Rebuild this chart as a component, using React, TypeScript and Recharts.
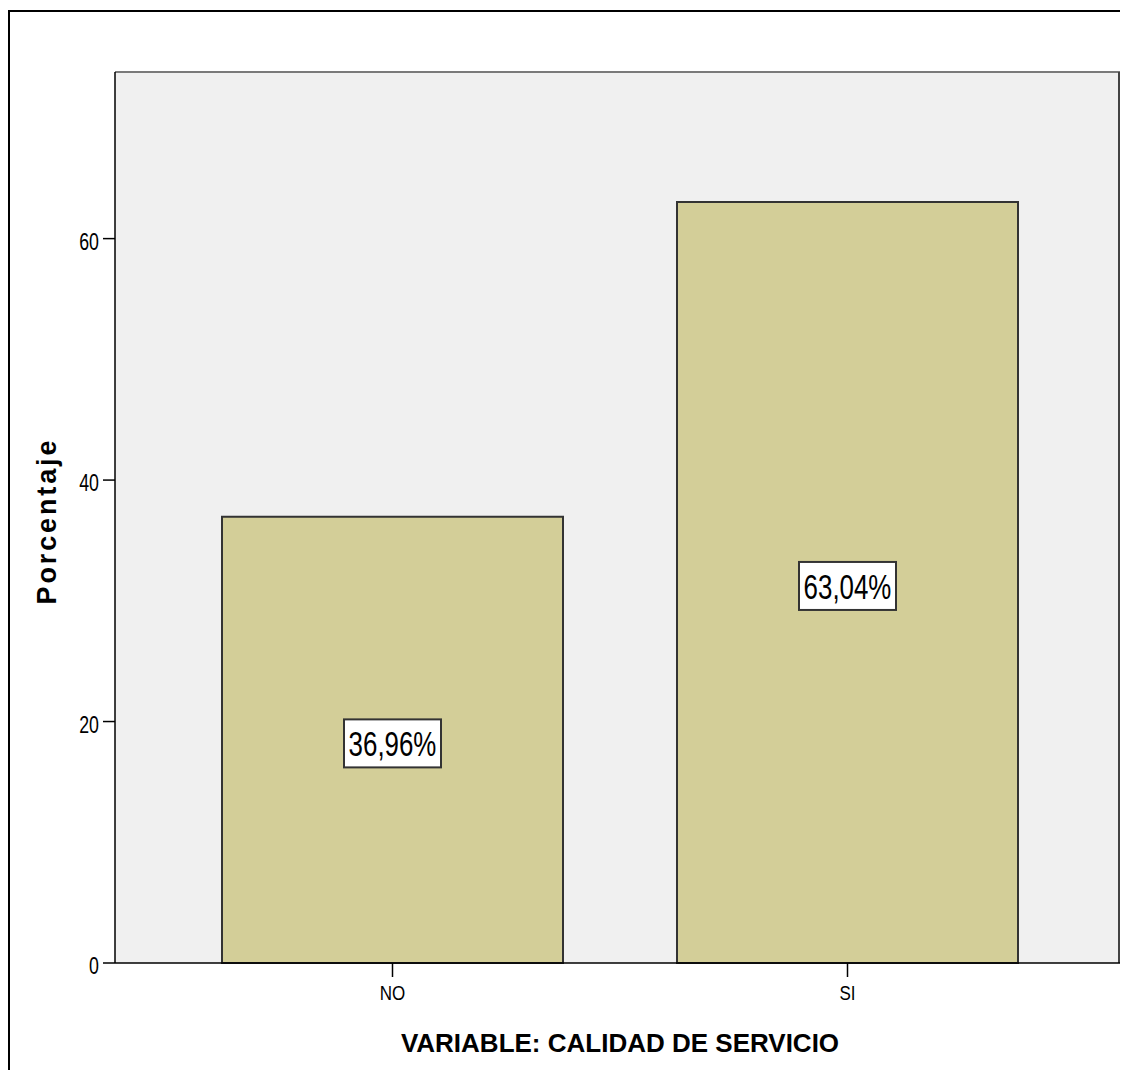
import React from 'react'
import { Bar, BarChart, CartesianGrid, LabelList, Label, XAxis, YAxis } from 'recharts'

const categories = ['NO', 'SI']
const percentages = [36.96, 63.04]
const yTicks = [0, 20, 40, 60]
const yMax = 73.8

const yTitle = 'Porcentaje'
const xTitle = 'VARIABLE: CALIDAD DE SERVICIO'

const data = categories.map((cat, i) => ({ cat, pct: percentages[i] }))

const FONT = '"Liberation Sans", Arial, sans-serif'

// SPSS draws its tick and value text in a condensed face, so squeeze it horizontally
const YTick = (props: any) => {
    const { x, y, payload } = props
    return (
        <text
            x={x}
            y={y + 11}
            textAnchor="end"
            fontFamily={FONT}
            fontSize={24}
            fill="#000"
            transform={`translate(${x} 0) scale(0.74 1) translate(${-x} 0)`}
        >
            {payload.value}
        </text>
    )
}

const XTick = (props: any) => {
    const { x, y, payload } = props
    return (
        <text
            x={x}
            y={y + 23}
            textAnchor="middle"
            fontFamily={FONT}
            fontSize={20}
            fill="#000"
            transform={`translate(${x} 0) scale(0.85 1) translate(${-x} 0)`}
        >
            {payload.value}
        </text>
    )
}

const formatPct = (v: number) => v.toFixed(2).replace('.', ',') + '%'

const ValueBox = (props: any) => {
    const { x, y, width, height, value } = props
    const cx = x + width / 2
    const cy = y + height / 2 + 3.5
    const boxW = 97
    const boxH = 48
    return (
        <g>
            <rect x={cx - boxW / 2} y={cy - boxH / 2} width={boxW} height={boxH} fill="#fff" stroke="#333" strokeWidth={2} />
            <text
                x={cx}
                y={cy + 13}
                textAnchor="middle"
                fontFamily={FONT}
                fontSize={35}
                fill="#000"
                transform={`translate(${cx} 0) scale(0.74 1) translate(${-cx} 0)`}
            >
                {formatPct(value)}
            </text>
        </g>
    )
}

const XTitle = (props: any) => {
    const { viewBox } = props
    return (
        <text
            x={610}
            y={viewBox.y + 89}
            textAnchor="middle"
            fontFamily={FONT}
            fontWeight="bold"
            fontSize={26}
            fill="#000"
        >
            {xTitle}
        </text>
    )
}

const YTitle = (props: any) => {
    const { viewBox } = props
    const cx = 46
    const cy = viewBox.y + viewBox.height / 2 + 5
    return (
        <text
            x={cx}
            y={cy}
            textAnchor="middle"
            fontFamily={FONT}
            fontWeight="bold"
            fontSize={27}
            fill="#000"
            textLength={164}
            lengthAdjust="spacing"
            transform={`rotate(-90 ${cx} ${cy})`}
        >
            {yTitle}
        </text>
    )
}

// frame lines along the top and right edges of the plot area
const topEdge = ({ offset }: any) => [offset.top]
const rightEdge = ({ offset }: any) => [offset.left + offset.width - 1]

export default function App() {
    return (
        <div style={{ paddingTop: 2 }}>
            <div
                style={{
                    width: 1120,
                    height: 1060,
                    boxSizing: 'border-box',
                    borderLeft: '2px solid #000',
                    borderTop: '2px solid #000',
                    background: '#fff',
                }}
            >
                <BarChart
                    width={1110}
                    height={1058}
                    data={data}
                    margin={{ top: 60, right: 0, left: 0, bottom: 0 }}
                >
                    <CartesianGrid
                        vertical={false}
                        horizontalCoordinatesGenerator={topEdge}
                        fill="#F0F0F0"
                        fillOpacity={1}
                        stroke="#7a7a7a"
                        strokeWidth={2}
                    />
                    <CartesianGrid
                        horizontal={false}
                        verticalCoordinatesGenerator={rightEdge}
                        stroke="#444"
                        strokeWidth={2}
                    />
                    <XAxis
                        dataKey="cat"
                        height={107}
                        padding={{ left: 50, right: 45 }}
                        axisLine={{ stroke: '#000', strokeWidth: 1.5 }}
                        tickLine={{ stroke: '#000', strokeWidth: 1.5 }}
                        tickSize={14}
                        tickMargin={0}
                        tick={<XTick />}
                    >
                        <Label content={<XTitle />} />
                    </XAxis>
                    <YAxis
                        width={105}
                        domain={[0, yMax]}
                        ticks={yTicks}
                        axisLine={{ stroke: '#000', strokeWidth: 1.5 }}
                        tickLine={{ stroke: '#000', strokeWidth: 1.5 }}
                        tickSize={12}
                        tickMargin={4}
                        tick={<YTick />}
                    >
                        <Label content={<YTitle />} />
                    </YAxis>
                    <Bar
                        dataKey="pct"
                        fill="#D3CE98"
                        stroke="#333"
                        strokeWidth={2}
                        barSize={341}
                        isAnimationActive={false}
                    >
                        <LabelList dataKey="pct" content={<ValueBox />} />
                    </Bar>
                </BarChart>
            </div>
        </div>
    )
}
